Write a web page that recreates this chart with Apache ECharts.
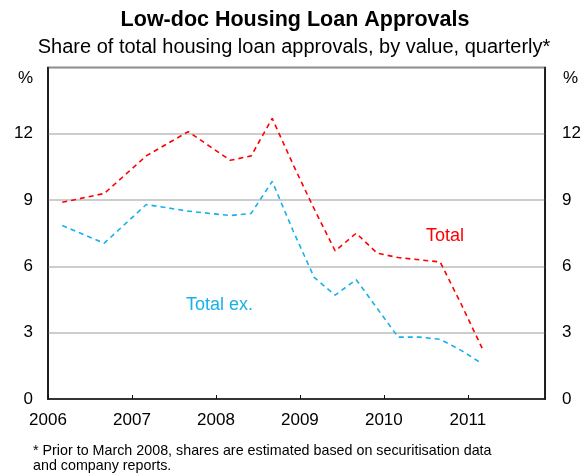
<!DOCTYPE html>
<html>
<head>
<meta charset="utf-8">
<script src="https://cdn.jsdelivr.net/npm/echarts@6/dist/echarts.min.js"></script>
<style>
html,body{margin:0;padding:0;background:#fff;}
#c{width:584px;height:473px;}
</style>
</head>
<body>
<div id="c"></div>
<script>
// Decimal-year positions of observations
var periods = [2006.17, 2006.67, 2007.17, 2007.67, 2008.17, 2008.42, 2008.67, 2008.92, 2009.17, 2009.42, 2009.67, 2009.92, 2010.17, 2010.42, 2010.67, 2010.92, 2011.17];
var totalShare = [8.9, 9.3, 11.0, 12.1, 10.8, 11.0, 12.7, 10.6, 8.6, 6.7, 7.5, 6.6, 6.4, 6.3, 6.2, 4.3, 2.3];
var totalExShare = [7.85, 7.05, 8.8, 8.5, 8.3, 8.4, 9.85, 7.6, 5.5, 4.7, 5.4, 4.1, 2.8, 2.8, 2.7, 2.2, 1.6];
var yTicks = [0, 3, 6, 9, 12, 15];
var xYears = [2006, 2007, 2008, 2009, 2010, 2011];

var FONT = '"Liberation Sans", Arial, sans-serif';
var RED = '#ff0000';
var BLUE = '#17b1ea';

function pairs(xs, ys) { return xs.map(function (x, i) { return [x, ys[i]]; }); }

var chart = echarts.init(document.getElementById('c'), null, { renderer: 'canvas' });
chart.setOption({
  backgroundColor: '#fff',
  animation: false,
  textStyle: { fontFamily: FONT },
  grid: { left: 48, right: 38, top: 67.5, bottom: 74, show: true, borderColor: '#111', borderWidth: 1.5, backgroundColor: 'transparent' },
  xAxis: {
    type: 'value', min: xYears[0], max: 2011.92, interval: 1,
    axisLine: { show: true, lineStyle: { color: '#111', width: 1.5 } },
    axisTick: { show: true, inside: true, length: 4, lineStyle: { color: '#111', width: 1 } },
    splitLine: { show: false },
    axisLabel: {
      margin: 13, fontSize: 17, color: '#000', fontFamily: FONT,
      showMaxLabel: false,
      formatter: function (v) { return xYears.indexOf(Math.round(v * 100) / 100) >= 0 ? String(v) : ''; }
    }
  },
  yAxis: [{
    type: 'value', min: yTicks[0], max: yTicks[yTicks.length - 1], interval: 3, position: 'left',
    axisLine: { show: true, lineStyle: { color: '#111', width: 1.5 } },
    axisTick: { show: false },
    splitLine: { show: true, lineStyle: { color: '#bdbdbd', width: 1.5 } },
    axisLabel: { margin: 15, fontSize: 17, color: '#000', fontFamily: FONT, showMaxLabel: false }
  }, {
    type: 'value', min: yTicks[0], max: yTicks[yTicks.length - 1], interval: 3, position: 'right',
    axisLine: { show: true, lineStyle: { color: '#111', width: 1.5 } },
    axisTick: { show: false },
    splitLine: { show: false },
    axisLabel: { margin: 17, fontSize: 17, color: '#000', fontFamily: FONT, showMaxLabel: false }
  }],
  series: [{
    name: 'Total', type: 'line', data: pairs(periods, totalShare),
    showSymbol: false, symbol: 'none',
    lineStyle: { color: RED, width: 1.6, type: [5, 4] }
  }, {
    name: 'Total ex.', type: 'line', data: pairs(periods, totalExShare),
    showSymbol: false, symbol: 'none',
    lineStyle: { color: BLUE, width: 1.6, type: [5, 4] }
  }],
  graphic: [
    { type: 'text', x: 295, y: 20, style: { text: 'Low-doc Housing Loan Approvals', font: 'bold 21.5px ' + FONT, fill: '#000', align: 'center', verticalAlign: 'middle' } },
    { type: 'text', x: 294, y: 47, style: { text: 'Share of total housing loan approvals, by value, quarterly*', font: '20px ' + FONT, fill: '#000', align: 'center', verticalAlign: 'middle' } },
    { type: 'text', x: 33, y: 78, style: { text: '%', font: '17px ' + FONT, fill: '#000', align: 'right', verticalAlign: 'middle' } },
    { type: 'text', x: 563, y: 78, style: { text: '%', font: '17px ' + FONT, fill: '#000', align: 'left', verticalAlign: 'middle' } },
    { type: 'text', x: 426, y: 236, style: { text: 'Total', font: '18px ' + FONT, fill: RED, align: 'left', verticalAlign: 'middle' } },
    { type: 'text', x: 186, y: 305, style: { text: 'Total ex.', font: '18px ' + FONT, fill: BLUE, align: 'left', verticalAlign: 'middle' } },
    { type: 'text', x: 33, y: 444, style: { text: '* Prior to March 2008, shares are estimated based on securitisation data\nand company reports.', font: '14.3px ' + FONT, lineHeight: 14.5, fill: '#000', align: 'left', verticalAlign: 'top' } }
  ]
});
</script>
</body>
</html>
